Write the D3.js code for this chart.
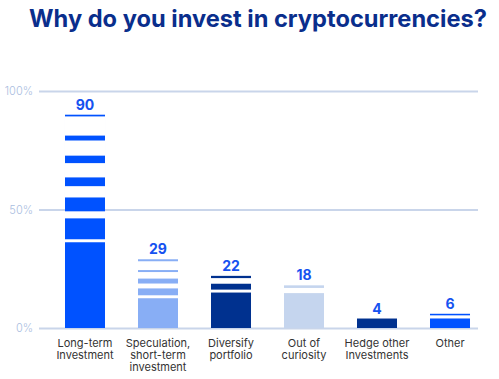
<!DOCTYPE html>
<meta charset="utf-8">
<script src="https://d3js.org/d3.v7.min.js"></script>
<style>
  body { margin: 0; background: #fff; }
  svg { display: block; font-family: Inter, "Liberation Sans", sans-serif; }
</style>
<div id="chart"></div>
<script>
// data
const categories = ["Long-term Investment", "Speculation, short-term investment", "Diversify portfolio",
  "Out of curiosity", "Hedge other Investments", "Other"];
const labelLines = [["Long-term", "Investment"], ["Speculation,", "short-term", "investment"],
  ["Diversify", "portfolio"], ["Out of", "curiosity"], ["Hedge other", "Investments"], ["Other"]];
const values = [90, 29, 22, 18, 4, 6];
const yTicks = [0, 50, 100];

const barColors = ["#0052ff", "#88aef5", "#00318f", "#c5d5ee", "#00318f", "#0052ff"];
// white cuts near the top of each bar, as fractions of the bar height measured from its top
const stripeCuts = [
  [[0.008, 0.098], [0.121, 0.192], [0.227, 0.294], [0.335, 0.388], [0.453, 0.486], [0.584, 0.598]],
  [[0.029, 0.157], [0.186, 0.281], [0.353, 0.424], [0.524, 0.567]],
  [[0.043, 0.151], [0.264, 0.32]],
  [[0.061, 0.182]],
  [],
  [[0.11, 0.33]]
];

const W = 499, H = 379;
const svg = d3.select("#chart").append("svg")
  .attr("width", W).attr("height", H);

// title
const title = svg.append("text")
  .attr("x", 258).attr("y", 27)
  .attr("text-anchor", "middle")
  .attr("fill", "#0a2e8c")
  .style("font-weight", 700)
  .style("font-size", "24px")
  .text("Why do you invest in cryptocurrencies?");
const tw = title.node().getComputedTextLength();
title.style("font-size", (24 * 458 / tw) + "px");

const x = d3.scaleBand()
  .domain(categories)
  .range([48.5, 486.5])
  .paddingInner(0.452)
  .paddingOuter(0.226);

const y = d3.scaleLinear()
  .domain([0, 100])
  .range([328, 91]);

// grid lines + tick labels
const axis = svg.append("g")
  .call(d3.axisLeft(y).tickValues(yTicks).tickFormat(d => d + "%").tickSize(0).tickPadding(0));
axis.select(".domain").remove();
axis.selectAll(".tick line").remove();
axis.selectAll(".tick").append("line")
  .attr("x1", 39).attr("x2", 478)
  .attr("stroke", "#c9d5ea").attr("stroke-width", 2);
axis.selectAll(".tick text")
  .attr("x", 33)
  .attr("fill", "#a9bde0")
  .style("font-size", "11px")
  .style("font-family", "Inter, 'Liberation Sans', sans-serif")
  .style("font-weight", 300);

// bars
const bars = svg.append("g").selectAll("g")
  .data(values)
  .join("g");

bars.append("rect")
  .attr("x", (d, i) => x(categories[i]))
  .attr("width", x.bandwidth())
  .attr("y", d => y(d))
  .attr("height", d => y(0) - y(d))
  .attr("fill", (d, i) => barColors[i]);

bars.each(function (d, i) {
  d3.select(this).selectAll("rect.cut")
    .data(stripeCuts[i])
    .join("rect")
    .attr("class", "cut")
    .attr("x", x(categories[i]))
    .attr("width", x.bandwidth())
    .attr("y", c => y(d * (1 - c[0])))
    .attr("height", c => y(d * (1 - c[1])) - y(d * (1 - c[0])))
    .attr("fill", "#fff");
});

// value labels
bars.append("text")
  .attr("x", (d, i) => x(categories[i]) + x.bandwidth() / 2)
  .attr("y", d => y(d) - 5)
  .attr("text-anchor", "middle")
  .attr("fill", "#1652f0")
  .style("font-weight", 700)
  .style("font-size", "14px")
  .text(d => d);

// category labels, one text per line
const cats = svg.append("g").selectAll("g")
  .data(categories)
  .join("g")
  .attr("transform", d => `translate(${x(d) + x.bandwidth() / 2},347)`);
cats.selectAll("text")
  .data((d, i) => labelLines[i])
  .join("text")
  .attr("y", (d, j) => j * 11.8)
  .attr("text-anchor", "middle")
  .attr("fill", "#333")
  .style("font-size", "11px")
  .text(d => d);
</script>
